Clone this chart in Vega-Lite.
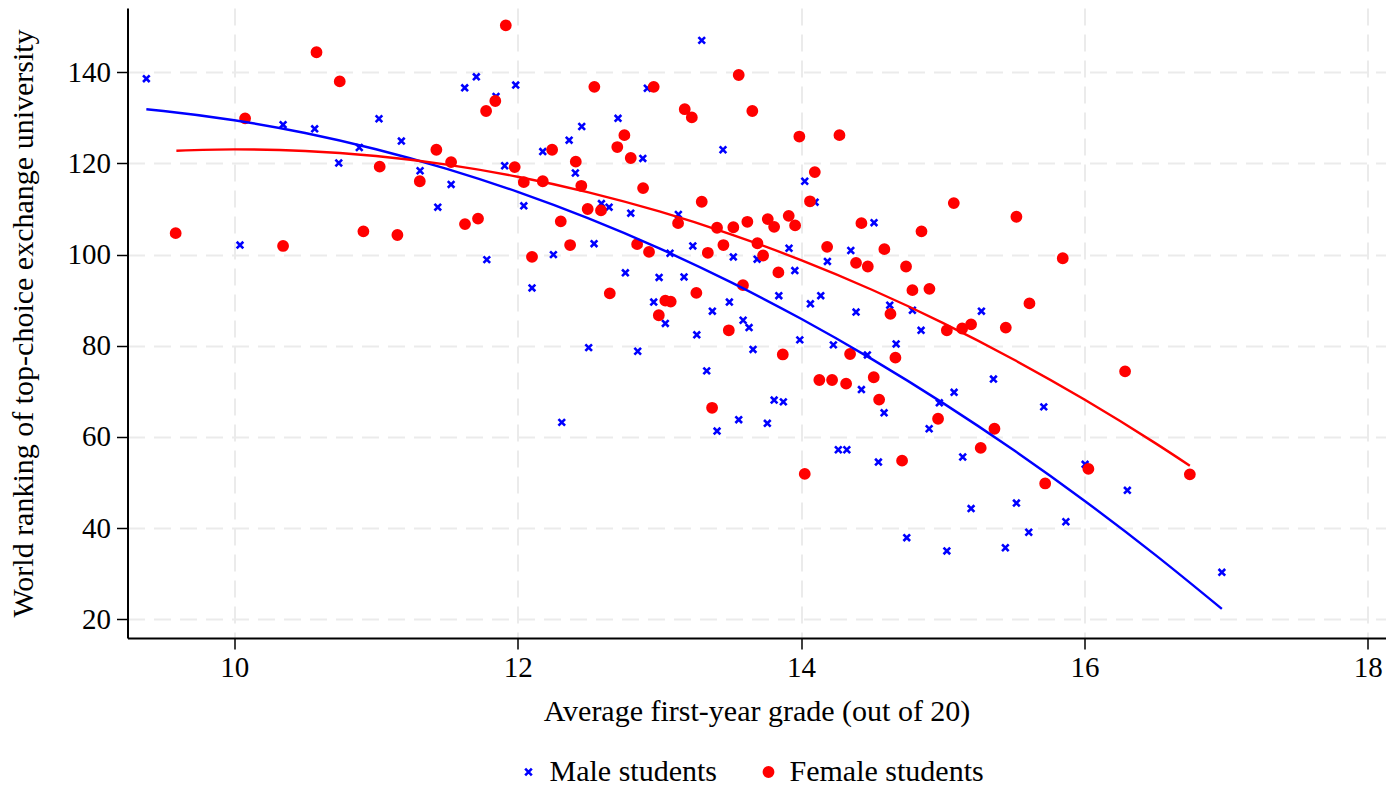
{
  "$schema": "https://vega.github.io/schema/vega-lite/v6.json",
  "width": 1258,
  "height": 630,
  "autosize": {"type": "none"},
  "padding": {"left": 127.5, "top": 8, "right": 7.5, "bottom": 150},
  "background": "white",
  "config": {
    "view": {"stroke": null},
    "font": "Liberation Serif",
    "axis": {
      "labelFont": "Liberation Serif",
      "titleFont": "Liberation Serif",
      "labelFontSize": 29,
      "titleFontSize": 30,
      "titleFontWeight": "normal",
      "labelColor": "#000000",
      "titleColor": "#000000",
      "domainColor": "#000000",
      "domainWidth": 2,
      "tickColor": "#000000",
      "tickWidth": 1.5,
      "tickSize": 11,
      "gridColor": "#EBEBEB",
      "gridDash": [17, 9],
      "gridWidth": 2
    },
    "legend": {
      "labelFont": "Liberation Serif",
      "labelFontSize": 30,
      "labelColor": "#000000",
      "labelLimit": 500
    }
  },
  "datasets": {
    "pts": [
      {"gender": "Male students", "grade": 9.379, "rank": 138.6},
      {"gender": "Male students", "grade": 10.344, "rank": 128.5},
      {"gender": "Male students", "grade": 10.567, "rank": 127.6},
      {"gender": "Male students", "grade": 11.021, "rank": 129.8},
      {"gender": "Male students", "grade": 10.882, "rank": 123.5},
      {"gender": "Male students", "grade": 11.179, "rank": 124.9},
      {"gender": "Male students", "grade": 10.737, "rank": 120.1},
      {"gender": "Male students", "grade": 11.311, "rank": 118.4},
      {"gender": "Male students", "grade": 11.53, "rank": 115.4},
      {"gender": "Male students", "grade": 11.436, "rank": 110.4},
      {"gender": "Male students", "grade": 10.04, "rank": 102.1},
      {"gender": "Male students", "grade": 13.299, "rank": 147.0},
      {"gender": "Male students", "grade": 11.708, "rank": 139.0},
      {"gender": "Male students", "grade": 11.626, "rank": 136.6},
      {"gender": "Male students", "grade": 11.986, "rank": 137.2},
      {"gender": "Male students", "grade": 12.915, "rank": 136.5},
      {"gender": "Male students", "grade": 11.847, "rank": 134.7},
      {"gender": "Male students", "grade": 12.708, "rank": 129.9},
      {"gender": "Male students", "grade": 12.452, "rank": 128.1},
      {"gender": "Male students", "grade": 12.363, "rank": 125.1},
      {"gender": "Male students", "grade": 13.449, "rank": 123.0},
      {"gender": "Male students", "grade": 12.177, "rank": 122.6},
      {"gender": "Male students", "grade": 12.883, "rank": 121.1},
      {"gender": "Male students", "grade": 11.908, "rank": 119.5},
      {"gender": "Male students", "grade": 12.407, "rank": 117.9},
      {"gender": "Male students", "grade": 12.043, "rank": 110.7},
      {"gender": "Male students", "grade": 12.591, "rank": 111.2},
      {"gender": "Male students", "grade": 12.645, "rank": 110.4},
      {"gender": "Male students", "grade": 12.798, "rank": 109.1},
      {"gender": "Male students", "grade": 13.134, "rank": 108.8},
      {"gender": "Male students", "grade": 11.782, "rank": 98.9},
      {"gender": "Male students", "grade": 12.252, "rank": 100.0},
      {"gender": "Male students", "grade": 12.539, "rank": 102.4},
      {"gender": "Male students", "grade": 13.075, "rank": 100.3},
      {"gender": "Male students", "grade": 13.236, "rank": 101.9},
      {"gender": "Male students", "grade": 13.522, "rank": 99.5},
      {"gender": "Male students", "grade": 13.69, "rank": 99.0},
      {"gender": "Male students", "grade": 12.101, "rank": 92.7},
      {"gender": "Male students", "grade": 12.76, "rank": 96.0},
      {"gender": "Male students", "grade": 12.998, "rank": 95.0},
      {"gender": "Male students", "grade": 13.174, "rank": 95.1},
      {"gender": "Male students", "grade": 12.96, "rank": 89.6},
      {"gender": "Male students", "grade": 13.494, "rank": 89.6},
      {"gender": "Male students", "grade": 13.374, "rank": 87.6},
      {"gender": "Male students", "grade": 13.042, "rank": 84.9},
      {"gender": "Male students", "grade": 13.591, "rank": 85.6},
      {"gender": "Male students", "grade": 13.633, "rank": 84.0},
      {"gender": "Male students", "grade": 14.026, "rank": 116.1},
      {"gender": "Male students", "grade": 14.099, "rank": 111.5},
      {"gender": "Male students", "grade": 14.515, "rank": 107.0},
      {"gender": "Male students", "grade": 13.915, "rank": 101.4},
      {"gender": "Male students", "grade": 14.351, "rank": 100.9},
      {"gender": "Male students", "grade": 13.956, "rank": 96.5},
      {"gender": "Male students", "grade": 14.186, "rank": 98.5},
      {"gender": "Male students", "grade": 13.843, "rank": 91.0},
      {"gender": "Male students", "grade": 14.066, "rank": 89.2},
      {"gender": "Male students", "grade": 14.139, "rank": 91.0},
      {"gender": "Male students", "grade": 14.388, "rank": 87.4},
      {"gender": "Male students", "grade": 14.626, "rank": 88.9},
      {"gender": "Male students", "grade": 14.786, "rank": 87.8},
      {"gender": "Male students", "grade": 15.273, "rank": 87.6},
      {"gender": "Male students", "grade": 14.847, "rank": 83.4},
      {"gender": "Male students", "grade": 13.264, "rank": 82.4},
      {"gender": "Male students", "grade": 12.501, "rank": 79.6},
      {"gender": "Male students", "grade": 12.847, "rank": 78.8},
      {"gender": "Male students", "grade": 13.661, "rank": 79.2},
      {"gender": "Male students", "grade": 13.334, "rank": 74.5},
      {"gender": "Male students", "grade": 13.56, "rank": 63.8},
      {"gender": "Male students", "grade": 13.407, "rank": 61.3},
      {"gender": "Male students", "grade": 12.311, "rank": 63.2},
      {"gender": "Male students", "grade": 13.762, "rank": 63.0},
      {"gender": "Male students", "grade": 13.991, "rank": 81.3},
      {"gender": "Male students", "grade": 14.228, "rank": 80.2},
      {"gender": "Male students", "grade": 14.468, "rank": 78.0},
      {"gender": "Male students", "grade": 14.671, "rank": 80.4},
      {"gender": "Male students", "grade": 14.426, "rank": 70.4},
      {"gender": "Male students", "grade": 14.586, "rank": 65.3},
      {"gender": "Male students", "grade": 13.81, "rank": 68.1},
      {"gender": "Male students", "grade": 13.875, "rank": 67.7},
      {"gender": "Male students", "grade": 14.263, "rank": 57.2},
      {"gender": "Male students", "grade": 14.323, "rank": 57.2},
      {"gender": "Male students", "grade": 14.546, "rank": 54.5},
      {"gender": "Male students", "grade": 14.976, "rank": 67.5},
      {"gender": "Male students", "grade": 15.08, "rank": 69.8},
      {"gender": "Male students", "grade": 15.358, "rank": 72.7},
      {"gender": "Male students", "grade": 15.713, "rank": 66.6},
      {"gender": "Male students", "grade": 14.904, "rank": 61.8},
      {"gender": "Male students", "grade": 15.141, "rank": 55.6},
      {"gender": "Male students", "grade": 15.2, "rank": 44.3},
      {"gender": "Male students", "grade": 15.52, "rank": 45.5},
      {"gender": "Male students", "grade": 15.869, "rank": 41.4},
      {"gender": "Male students", "grade": 15.607, "rank": 39.1},
      {"gender": "Male students", "grade": 14.746, "rank": 37.9},
      {"gender": "Male students", "grade": 15.029, "rank": 35.0},
      {"gender": "Male students", "grade": 15.442, "rank": 35.7},
      {"gender": "Male students", "grade": 16.005, "rank": 54.0},
      {"gender": "Male students", "grade": 16.303, "rank": 48.3},
      {"gender": "Male students", "grade": 16.97, "rank": 30.3},
      {"gender": "Female students", "grade": 10.58, "rank": 144.4},
      {"gender": "Female students", "grade": 10.744, "rank": 138.0},
      {"gender": "Female students", "grade": 10.076, "rank": 129.9},
      {"gender": "Female students", "grade": 11.426, "rank": 123.0},
      {"gender": "Female students", "grade": 11.53, "rank": 120.3},
      {"gender": "Female students", "grade": 11.026, "rank": 119.3},
      {"gender": "Female students", "grade": 11.309, "rank": 116.1},
      {"gender": "Female students", "grade": 9.586, "rank": 104.7},
      {"gender": "Female students", "grade": 10.344, "rank": 101.9},
      {"gender": "Female students", "grade": 10.911, "rank": 105.1},
      {"gender": "Female students", "grade": 11.151, "rank": 104.3},
      {"gender": "Female students", "grade": 11.916, "rank": 150.3},
      {"gender": "Female students", "grade": 12.541, "rank": 136.8},
      {"gender": "Female students", "grade": 12.96, "rank": 136.8},
      {"gender": "Female students", "grade": 13.56, "rank": 139.4},
      {"gender": "Female students", "grade": 11.842, "rank": 133.7},
      {"gender": "Female students", "grade": 11.777, "rank": 131.5},
      {"gender": "Female students", "grade": 13.179, "rank": 131.9},
      {"gender": "Female students", "grade": 13.229, "rank": 130.1},
      {"gender": "Female students", "grade": 13.656, "rank": 131.5},
      {"gender": "Female students", "grade": 12.753, "rank": 126.2},
      {"gender": "Female students", "grade": 12.703, "rank": 123.6},
      {"gender": "Female students", "grade": 12.243, "rank": 123.0},
      {"gender": "Female students", "grade": 12.41, "rank": 120.4},
      {"gender": "Female students", "grade": 12.798, "rank": 121.2},
      {"gender": "Female students", "grade": 11.979, "rank": 119.2},
      {"gender": "Female students", "grade": 12.043, "rank": 115.9},
      {"gender": "Female students", "grade": 12.177, "rank": 116.1},
      {"gender": "Female students", "grade": 12.449, "rank": 115.1},
      {"gender": "Female students", "grade": 12.885, "rank": 114.6},
      {"gender": "Female students", "grade": 13.299, "rank": 111.6},
      {"gender": "Female students", "grade": 11.628, "rank": 106.7},
      {"gender": "Female students", "grade": 11.72, "rank": 107.9},
      {"gender": "Female students", "grade": 12.494, "rank": 110.0},
      {"gender": "Female students", "grade": 12.588, "rank": 109.7},
      {"gender": "Female students", "grade": 13.132, "rank": 106.9},
      {"gender": "Female students", "grade": 13.407, "rank": 105.9},
      {"gender": "Female students", "grade": 13.522, "rank": 106.0},
      {"gender": "Female students", "grade": 13.621, "rank": 107.2},
      {"gender": "Female students", "grade": 13.765, "rank": 107.8},
      {"gender": "Female students", "grade": 12.304, "rank": 107.3},
      {"gender": "Female students", "grade": 12.37, "rank": 102.1},
      {"gender": "Female students", "grade": 12.101, "rank": 99.5},
      {"gender": "Female students", "grade": 12.843, "rank": 102.3},
      {"gender": "Female students", "grade": 12.927, "rank": 100.6},
      {"gender": "Female students", "grade": 13.342, "rank": 100.4},
      {"gender": "Female students", "grade": 13.452, "rank": 102.1},
      {"gender": "Female students", "grade": 13.692, "rank": 102.5},
      {"gender": "Female students", "grade": 13.732, "rank": 99.8},
      {"gender": "Female students", "grade": 12.65, "rank": 91.5},
      {"gender": "Female students", "grade": 13.261, "rank": 91.6},
      {"gender": "Female students", "grade": 13.59, "rank": 93.3},
      {"gender": "Female students", "grade": 13.042, "rank": 89.9},
      {"gender": "Female students", "grade": 13.08, "rank": 89.7},
      {"gender": "Female students", "grade": 12.996, "rank": 86.7},
      {"gender": "Female students", "grade": 13.49, "rank": 83.4},
      {"gender": "Female students", "grade": 13.988, "rank": 125.9},
      {"gender": "Female students", "grade": 14.271, "rank": 126.2},
      {"gender": "Female students", "grade": 14.097, "rank": 118.1},
      {"gender": "Female students", "grade": 14.063, "rank": 111.7},
      {"gender": "Female students", "grade": 15.078, "rank": 111.3},
      {"gender": "Female students", "grade": 15.52, "rank": 108.3},
      {"gender": "Female students", "grade": 13.913, "rank": 108.5},
      {"gender": "Female students", "grade": 13.81, "rank": 106.1},
      {"gender": "Female students", "grade": 13.958, "rank": 106.4},
      {"gender": "Female students", "grade": 14.426, "rank": 106.9},
      {"gender": "Female students", "grade": 14.85, "rank": 105.1},
      {"gender": "Female students", "grade": 14.184, "rank": 101.7},
      {"gender": "Female students", "grade": 14.588, "rank": 101.2},
      {"gender": "Female students", "grade": 13.84, "rank": 96.1},
      {"gender": "Female students", "grade": 14.388, "rank": 98.2},
      {"gender": "Female students", "grade": 14.471, "rank": 97.4},
      {"gender": "Female students", "grade": 14.741, "rank": 97.4},
      {"gender": "Female students", "grade": 14.786, "rank": 92.2},
      {"gender": "Female students", "grade": 14.906, "rank": 92.5},
      {"gender": "Female students", "grade": 15.612, "rank": 89.3},
      {"gender": "Female students", "grade": 15.847, "rank": 99.2},
      {"gender": "Female students", "grade": 14.631, "rank": 87.0},
      {"gender": "Female students", "grade": 15.029, "rank": 83.4},
      {"gender": "Female students", "grade": 15.137, "rank": 83.8},
      {"gender": "Female students", "grade": 15.2, "rank": 84.7},
      {"gender": "Female students", "grade": 15.445, "rank": 84.0},
      {"gender": "Female students", "grade": 14.346, "rank": 78.2},
      {"gender": "Female students", "grade": 14.666, "rank": 77.4},
      {"gender": "Female students", "grade": 13.871, "rank": 78.1},
      {"gender": "Female students", "grade": 14.129, "rank": 72.5},
      {"gender": "Female students", "grade": 14.219, "rank": 72.5},
      {"gender": "Female students", "grade": 14.318, "rank": 71.7},
      {"gender": "Female students", "grade": 14.513, "rank": 73.1},
      {"gender": "Female students", "grade": 14.551, "rank": 68.2},
      {"gender": "Female students", "grade": 14.713, "rank": 54.8},
      {"gender": "Female students", "grade": 14.026, "rank": 51.9},
      {"gender": "Female students", "grade": 14.967, "rank": 64.0},
      {"gender": "Female students", "grade": 15.365, "rank": 61.8},
      {"gender": "Female students", "grade": 15.268, "rank": 57.6},
      {"gender": "Female students", "grade": 15.723, "rank": 49.8},
      {"gender": "Female students", "grade": 16.028, "rank": 53.0},
      {"gender": "Female students", "grade": 16.287, "rank": 74.4},
      {"gender": "Female students", "grade": 16.744, "rank": 51.8},
      {"gender": "Female students", "grade": 13.372, "rank": 66.4}
    ],
    "fit": [
      {"gender": "Male students", "grade": 9.379, "rank": 131.9},
      {"gender": "Male students", "grade": 9.5, "rank": 131.52},
      {"gender": "Male students", "grade": 10.0, "rank": 129.47},
      {"gender": "Male students", "grade": 10.5, "rank": 126.68},
      {"gender": "Male students", "grade": 11.0, "rank": 123.12},
      {"gender": "Male students", "grade": 11.5, "rank": 118.82},
      {"gender": "Male students", "grade": 12.0, "rank": 113.75},
      {"gender": "Male students", "grade": 12.5, "rank": 107.93},
      {"gender": "Male students", "grade": 13.0, "rank": 101.35},
      {"gender": "Male students", "grade": 13.5, "rank": 94.01},
      {"gender": "Male students", "grade": 14.0, "rank": 85.93},
      {"gender": "Male students", "grade": 14.5, "rank": 77.08},
      {"gender": "Male students", "grade": 15.0, "rank": 67.48},
      {"gender": "Male students", "grade": 15.5, "rank": 57.12},
      {"gender": "Male students", "grade": 16.0, "rank": 46.01},
      {"gender": "Male students", "grade": 16.5, "rank": 34.14},
      {"gender": "Male students", "grade": 16.97, "rank": 22.29},
      {"gender": "Female students", "grade": 9.591, "rank": 122.8},
      {"gender": "Female students", "grade": 10.0, "rank": 123.09},
      {"gender": "Female students", "grade": 10.5, "rank": 122.74},
      {"gender": "Female students", "grade": 11.0, "rank": 121.62},
      {"gender": "Female students", "grade": 11.5, "rank": 119.73},
      {"gender": "Female students", "grade": 12.0, "rank": 117.08},
      {"gender": "Female students", "grade": 12.5, "rank": 113.66},
      {"gender": "Female students", "grade": 13.0, "rank": 109.47},
      {"gender": "Female students", "grade": 13.5, "rank": 104.52},
      {"gender": "Female students", "grade": 14.0, "rank": 98.78},
      {"gender": "Female students", "grade": 14.5, "rank": 92.29},
      {"gender": "Female students", "grade": 15.0, "rank": 85.04},
      {"gender": "Female students", "grade": 15.5, "rank": 77.0},
      {"gender": "Female students", "grade": 16.0, "rank": 68.21},
      {"gender": "Female students", "grade": 16.5, "rank": 58.65},
      {"gender": "Female students", "grade": 16.744, "rank": 53.7}
    ]
  },
  "encoding": {
    "x": {
      "field": "grade",
      "type": "quantitative",
      "scale": {"domain": [9.246, 18.125], "nice": false, "zero": false},
      "axis": {
        "values": [10, 12, 14, 16, 18],
        "title": "Average first-year grade (out of 20)",
        "labelPadding": 4,
        "titlePadding": 14,
        "labelFlush": false
      }
    },
    "y": {
      "field": "rank",
      "type": "quantitative",
      "scale": {"domain": [15.9, 154.1], "nice": false, "zero": false},
      "axis": {
        "values": [20, 40, 60, 80, 100, 120, 140],
        "title": "World ranking of top-choice exchange university",
        "labelPadding": 6,
        "titlePadding": 29,
        "labelFlush": false
      }
    }
  },
  "layer": [
    {
      "data": {"name": "pts"},
      "mark": {"type": "point", "filled": true, "size": 85, "strokeWidth": 2.6, "opacity": 1},
      "encoding": {
        "fill": {
          "field": "gender", "type": "nominal",
          "scale": {"domain": ["Male students", "Female students"], "range": ["#0000FF", "#FF0000"]},
          "legend": {
            "title": null, "orient": "none", "direction": "horizontal",
            "legendX": 386, "legendY": 749, "padding": 0,
            "labelOffset": 6, "columnPadding": 36, "symbolStrokeWidth": 2.6, "symbolSize": 85
          }
        },
        "stroke": {
          "field": "gender", "type": "nominal",
          "scale": {"domain": ["Male students", "Female students"], "range": ["#0000FF", "#FF0000"]},
          "legend": {
            "title": null, "orient": "none", "direction": "horizontal",
            "legendX": 386, "legendY": 749, "padding": 0,
            "labelOffset": 6, "columnPadding": 36, "symbolStrokeWidth": 2.6, "symbolSize": 85
          }
        },
        "shape": {
          "field": "gender", "type": "nominal",
          "scale": {"domain": ["Male students", "Female students"], "range": ["M-0.72,-0.72L0.72,0.72M-0.72,0.72L0.72,-0.72", "circle"]},
          "legend": {
            "title": null, "orient": "none", "direction": "horizontal",
            "legendX": 386, "legendY": 749, "padding": 0,
            "labelOffset": 6, "columnPadding": 36, "symbolStrokeWidth": 2.6, "symbolSize": 85
          }
        }
      }
    },
    {
      "data": {"name": "fit"},
      "mark": {"type": "line", "strokeWidth": 2.4, "interpolate": "monotone"},
      "encoding": {
        "stroke": {
          "field": "gender", "type": "nominal",
          "scale": {"domain": ["Male students", "Female students"], "range": ["#0000FF", "#FF0000"]},
          "legend": null
        }
      }
    }
  ]
}
